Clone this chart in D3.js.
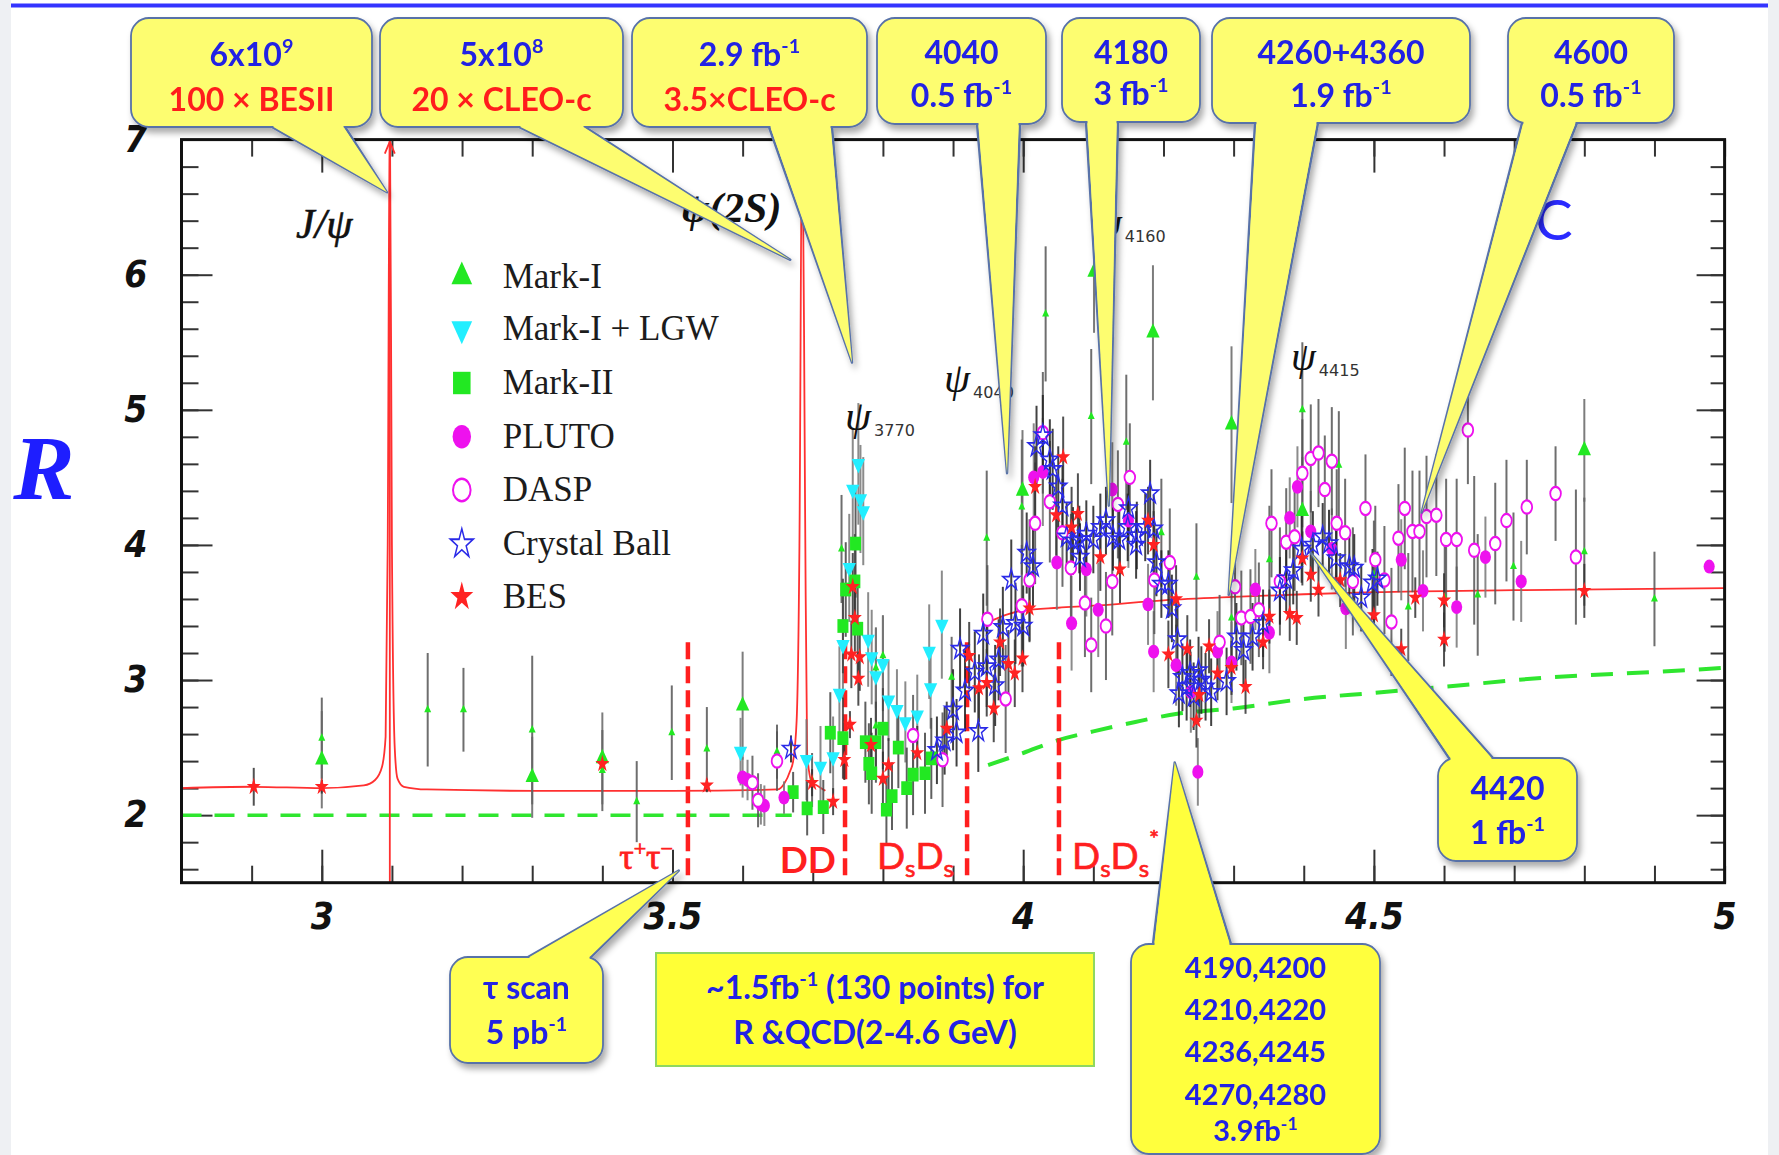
<!DOCTYPE html>
<html>
<head>
<meta charset="utf-8">
<script src="https://cdn.jsdelivr.net/npm/d3@7"></script>
<style>
  html, body { margin: 0; padding: 0; background: #fff; }
  svg { display: block; }
</style>
</head>
<body>
<svg id="chart" width="1779" height="1155"></svg>
<script>
// ---------------------------------------------------------------
// R = sigma(e+e- -> hadrons) / sigma(mu mu) in the charm region.
// Each point: [E (GeV), R, error]
// ---------------------------------------------------------------
const markI = [
  [3.0,2.41,0.36],[3.3,2.28,0.30],[3.4,2.42,0.34],[3.6,2.81,0.40],[3.999,4.40,0.45],
  [4.101,6.02,0.45],[4.185,5.57,0.50],[4.297,4.89,0.58],[4.398,4.25,0.40],[4.8,4.70,0.38]
];
const markISmall = [
  [3.0,2.57,0.30],[3.151,2.78,0.42],[3.202,2.78,0.31],[3.30,2.63,0.55],[3.40,2.33,0.30],
  [3.449,2.10,0.30],[3.499,2.61,0.35],[3.549,2.49,0.31],[3.649,2.47,0.20],[3.699,2.26,0.20],
  [3.741,3.97,0.40],[3.79,3.09,0.30],[3.79,2.66,0.30],[3.80,3.18,0.30],[3.898,3.02,0.30],
  [3.948,4.05,0.50],[3.998,4.28,0.50],[4.032,5.71,0.50],[4.097,4.95,0.50],[4.147,4.76,0.50],
  [4.197,4.09,0.40],[4.247,3.76,0.40],[4.297,3.46,0.40],[4.351,3.89,0.40],[4.398,5.00,0.50],
  [4.45,4.59,0.40],[4.50,3.78,0.40],[4.549,3.54,0.40],[4.601,3.61,0.40],[4.648,3.63,0.45],
  [4.699,3.84,0.40],[4.80,3.95,0.40],[4.90,3.60,0.35]
];
const markILGW = [
  [3.597,2.47,0.25],[3.691,2.41,0.30],[3.711,2.36,0.30],[3.729,2.43,0.30],[3.738,2.90,0.35],
  [3.743,3.26,0.40],[3.752,3.83,0.40],[3.757,4.41,0.45],[3.765,4.60,0.45],[3.768,4.34,0.40],
  [3.772,4.25,0.40],[3.779,3.30,0.35],[3.784,3.17,0.35],[3.79,3.03,0.35],[3.80,3.12,0.35],
  [3.808,2.85,0.30],[3.82,2.78,0.30],[3.832,2.69,0.30],[3.849,2.74,0.30],[3.866,3.21,0.35],
  [3.868,2.94,0.30],[3.884,3.41,0.40]
];
const markII = [
  [3.672,2.17,0.15],[3.692,2.05,0.20],[3.715,2.06,0.20],[3.725,2.61,0.30],[3.743,2.57,0.30],
  [3.743,3.40,0.35],[3.747,3.67,0.35],[3.761,4.01,0.40],[3.76,3.73,0.35],[3.764,3.38,0.35],
  [3.775,2.54,0.30],[3.79,2.54,0.30],[3.78,2.38,0.30],[3.784,2.31,0.30],[3.805,2.04,0.25],
  [3.80,2.64,0.30],[3.813,2.14,0.25],[3.822,2.50,0.30],[3.834,2.20,0.30],[3.843,2.30,0.30],
  [3.86,2.31,0.30],[3.869,2.42,0.30]
];
const pluto = [
  [3.60,2.28,0.15],[3.607,2.26,0.15],[3.626,2.08,0.15],[3.631,2.07,0.15],[3.659,2.13,0.12],
  [4.015,4.50,0.40],[4.028,4.54,0.40],[4.048,3.87,0.35],[4.069,3.42,0.35],[4.09,3.82,0.35],
  [4.107,3.52,0.35],[4.127,4.41,0.35],[4.15,4.18,0.35],[4.178,3.56,0.30],[4.186,3.21,0.30],
  [4.218,3.11,0.30],[4.239,2.91,0.30],[4.249,2.32,0.25],[4.277,3.21,0.30],[4.297,3.13,0.30],
  [4.331,3.67,0.30],[4.351,3.35,0.30],[4.38,4.20,0.30],[4.391,4.43,0.30],[4.41,4.10,0.30],
  [4.44,3.97,0.30],[4.46,3.53,0.30],[4.539,3.89,0.30],[4.57,3.66,0.30],[4.618,3.54,0.30],
  [4.659,3.91,0.30],[4.71,3.73,0.30],[4.978,3.84,0.0]
];
const dasp = [
  [3.614,2.24,0.20],[3.622,2.11,0.20],[3.649,2.40,0.22],[3.843,2.59,0.30],[3.885,2.41,0.35],
  [3.949,3.45,0.40],[3.975,2.86,0.40],[3.998,3.55,0.45],[4.009,3.74,0.45],[4.017,4.16,0.45],
  [4.028,4.83,0.45],[4.038,4.32,0.45],[4.056,4.09,0.40],[4.068,3.83,0.40],[4.088,3.57,0.40],
  [4.097,3.26,0.35],[4.118,3.40,0.40],[4.127,3.73,0.40],[4.135,4.30,0.40],[4.152,4.50,0.40],
  [4.187,3.74,0.40],[4.209,3.87,0.40],[4.28,3.28,0.35],[4.302,3.69,0.35],[4.311,3.46,0.35],
  [4.324,3.47,0.35],[4.336,3.52,0.35],[4.354,4.16,0.40],[4.366,3.73,0.40],[4.375,4.02,0.40],
  [4.387,4.06,0.40],[4.398,4.53,0.40],[4.41,4.64,0.40],[4.421,4.68,0.40],[4.43,4.41,0.40],
  [4.44,4.62,0.40],[4.447,4.16,0.40],[4.459,4.09,0.40],[4.47,3.73,0.40],[4.488,4.27,0.40],
  [4.502,3.89,0.40],[4.515,3.74,0.40],[4.525,3.43,0.40],[4.535,4.05,0.40],[4.544,4.27,0.45],
  [4.555,4.10,0.45],[4.565,4.10,0.45],[4.575,4.21,0.45],[4.589,4.22,0.45],[4.603,4.04,0.45],
  [4.618,4.04,0.45],[4.634,4.85,0.40],[4.643,3.96,0.55],[4.673,4.01,0.45],[4.689,4.18,0.45],
  [4.718,4.28,0.35],[4.759,4.38,0.35],[4.788,3.91,0.50]
];
const crystalBall = [
  [3.669,2.49,0.10],[3.877,2.48,0.25],[3.888,2.55,0.25],[3.90,2.78,0.30],[3.905,2.61,0.25],
  [3.91,3.23,0.30],[3.917,2.92,0.30],[3.931,3.06,0.30],[3.936,2.62,0.30],[3.943,3.34,0.30],
  [3.948,3.10,0.30],[3.96,2.96,0.30],[3.965,3.15,0.30],[3.971,3.39,0.30],[3.983,3.74,0.30],
  [3.989,3.42,0.30],[4.0,3.40,0.30],[4.005,3.94,0.30],[4.014,3.84,0.30],[4.019,4.73,0.30],
  [4.028,4.81,0.30],[4.038,4.63,0.30],[4.042,4.56,0.30],[4.05,4.43,0.30],[4.056,4.29,0.30],
  [4.062,4.06,0.25],[4.071,4.03,0.25],[4.08,4.04,0.25],[4.081,3.91,0.25],[4.09,4.08,0.25],
  [4.10,4.04,0.25],[4.11,4.13,0.25],[4.118,4.18,0.25],[4.128,4.06,0.25],[4.137,4.04,0.25],
  [4.149,4.13,0.25],[4.15,4.27,0.25],[4.161,4.00,0.25],[4.162,4.07,0.25],[4.174,4.13,0.25],
  [4.181,4.38,0.25],[4.186,4.12,0.25],[4.19,3.87,0.25],[4.197,3.71,0.25],[4.207,3.71,0.25],
  [4.212,3.53,0.25],[4.22,3.30,0.25],[4.222,2.90,0.25],[4.227,3.02,0.25],[4.233,2.95,0.25],
  [4.238,3.05,0.25],[4.243,2.88,0.25],[4.25,3.07,0.25],[4.254,3.00,0.25],[4.26,2.95,0.25],
  [4.268,2.91,0.25],[4.29,2.99,0.25],[4.304,3.32,0.25],[4.314,3.22,0.25],[4.327,3.32,0.25],
  [4.342,3.42,0.25],[4.366,3.66,0.25],[4.375,3.75,0.25],[4.385,3.81,0.25],[4.397,3.97,0.25],
  [4.413,4.00,0.25],[4.427,4.06,0.25],[4.436,4.01,0.25],[4.446,3.90,0.25],[4.465,3.84,0.25],
  [4.472,3.83,0.25],[4.482,3.61,0.25],[4.498,3.72,0.25],[4.505,3.75,0.20]
];
const bes = [
  [2.903,2.21,0.14],[3.0,2.21,0.05],[3.40,2.38,0.05],[3.549,2.22,0.05],[3.699,2.24,0.10],
  [3.729,2.10,0.10],[3.745,2.41,0.15],[3.753,2.67,0.10],[3.757,3.69,0.25],[3.76,3.46,0.25],
  [3.755,3.19,0.25],[3.767,3.17,0.25],[3.765,3.01,0.20],[3.783,2.52,0.20],[3.80,2.27,0.20],
  [3.808,2.37,0.20],[3.849,2.46,0.20],[3.891,2.64,0.20],[3.923,3.18,0.25],[3.937,2.94,0.25],
  [3.948,2.98,0.25],[3.958,2.79,0.25],[3.967,3.28,0.25],[3.979,3.12,0.25],[3.988,3.05,0.25],
  [3.999,3.16,0.25],[4.009,3.53,0.25],[4.017,4.43,0.30],[4.047,4.22,0.30],[4.057,4.65,0.30],
  [4.069,4.13,0.30],[4.078,4.23,0.30],[4.11,3.91,0.25],[4.138,3.82,0.25],[4.178,4.18,0.25],
  [4.186,4.00,0.25],[4.207,3.19,0.25],[4.218,3.60,0.25],[4.234,3.23,0.25],[4.247,2.70,0.20],
  [4.251,2.89,0.20],[4.265,3.25,0.20],[4.277,3.05,0.20],[4.297,3.09,0.20],[4.317,2.95,0.20],
  [4.342,3.28,0.20],[4.351,3.47,0.20],[4.38,3.49,0.20],[4.39,3.46,0.20],[4.398,3.90,0.20],
  [4.41,3.78,0.20],[4.421,3.67,0.20],[4.452,3.74,0.20],[4.50,3.48,0.20],[4.539,3.23,0.15],
  [4.559,3.61,0.15],[4.60,3.30,0.20],[4.60,3.59,0.20],[4.80,3.66,0.20]
];

// Theory curves
const resonanceCurveE = [2.8,2.9,3.0,3.06,3.076,3.086,3.091,3.094,3.097,3.100,3.104,3.108,3.117,3.15,3.3,3.5,3.65,3.659,3.668,3.672,3.677,3.681,3.685,3.689,3.692,3.699,3.706,3.718];
const resonanceCurveR = [2.20,2.21,2.20,2.22,2.26,2.36,2.58,4.0,7.3,4.0,2.5,2.27,2.21,2.19,2.18,2.18,2.19,2.23,2.33,2.40,2.70,4.0,7.3,4.3,2.45,2.24,2.22,2.18];
const continuumCurveE = [3.955,3.98,4.0,4.05,4.1,4.2,4.3,4.4,4.5,4.7,5.0];
const continuumCurveR = [3.44,3.49,3.515,3.535,3.55,3.59,3.615,3.635,3.65,3.665,3.68];
const partonLowE = [2.8,3.67];
const partonLowR = [2.0,2.0];
const partonHighE = [3.95,4.0,4.05,4.1,4.16,4.22,4.3,4.4,4.5,4.6,4.75,4.9,5.0];
const partonHighR = [2.37,2.46,2.555,2.62,2.69,2.75,2.79,2.86,2.905,2.95,3.02,3.06,3.09];
const jpsiMass = 3.097;

// Open-flavour thresholds
const thresholdE = [3.522,3.746,3.920,4.051];
const thresholdTopR = 3.28;

// Axis ticks
const xMinorTicks = d3.range(28,51).map(d => d/10);
const xMajorTicks = [3,3.5,4,4.5];
const xLabelTicks = [3,3.5,4,4.5,5];
const yMinorTicks = d3.range(8,35).map(d => d/5);
const yMajorTicks = [2,3,4,5,6];
const yLabelTicks = [2,3,4,5,6,7];

const legendNames = ["Mark-I","Mark-I + LGW","Mark-II","PLUTO","DASP","Crystal Ball","BES"];

// ---------------------------------------------------------------
const W = 1779, H = 1155;
const svg = d3.select("#chart");
const x = d3.scaleLinear().domain([2.8,5.0]).range([181.5,1724.6]);
const y = d3.scaleLinear().domain([1.5,7.0]).range([882.7,139.6]);

const BLUE = "#2222e4", RED = "#ff1f1f", GREEN = "#22e822", CYAN = "#22eeff", MAG = "#ee11ee";

const defs = svg.append("defs");
defs.append("clipPath").attr("id","plotClip").append("rect")
  .attr("x", x(2.8)).attr("y", y(7)).attr("width", x(5)-x(2.8)).attr("height", y(1.5)-y(7));
const sh = defs.append("filter").attr("id","shadow")
  .attr("x","-20%").attr("y","-20%").attr("width","150%").attr("height","150%");
sh.append("feDropShadow").attr("dx",3).attr("dy",5).attr("stdDeviation",3)
  .attr("flood-color","#000").attr("flood-opacity",0.33);
const glow = defs.append("filter").attr("id","glow");
glow.append("feGaussianBlur").attr("stdDeviation",1.2);

// page background
svg.append("rect").attr("width",W).attr("height",H).attr("fill","#fff");
svg.append("rect").attr("x",0).attr("y",0).attr("width",11).attr("height",H).attr("fill","#eef0f3");
svg.append("rect").attr("x",1768).attr("y",0).attr("width",11).attr("height",H).attr("fill","#eef0f3");
// top rule
svg.append("line").attr("x1",11).attr("x2",1768).attr("y1",5.5).attr("y2",5.5)
  .attr("stroke","#8c8cff").attr("stroke-width",8).attr("filter","url(#glow)");
svg.append("line").attr("x1",11).attr("x2",1768).attr("y1",5.5).attr("y2",5.5)
  .attr("stroke","#3434ff").attr("stroke-width",4);

// ---------------- axes ----------------
const tickStyle = g => { g.select(".domain").remove(); g.selectAll("line").attr("stroke","#333").attr("stroke-width",2); };
const axG = svg.append("g");
axG.append("g").attr("transform",`translate(0,${y(1.5)})`)
  .call(d3.axisBottom(x).tickValues(xMinorTicks).tickSize(-17).tickFormat("")).call(tickStyle);
axG.append("g").attr("transform",`translate(0,${y(1.5)})`)
  .call(d3.axisBottom(x).tickValues(xMajorTicks).tickSize(-33).tickFormat("")).call(tickStyle);
axG.append("g").attr("transform",`translate(0,${y(7)})`)
  .call(d3.axisTop(x).tickValues(xMinorTicks).tickSize(-17).tickFormat("")).call(tickStyle);
axG.append("g").attr("transform",`translate(0,${y(7)})`)
  .call(d3.axisTop(x).tickValues(xMajorTicks).tickSize(-33).tickFormat("")).call(tickStyle);
axG.append("g").attr("transform",`translate(${x(2.8)},0)`)
  .call(d3.axisLeft(y).tickValues(yMinorTicks).tickSize(-17).tickFormat("")).call(tickStyle);
axG.append("g").attr("transform",`translate(${x(2.8)},0)`)
  .call(d3.axisLeft(y).tickValues(yMajorTicks).tickSize(-31).tickFormat("")).call(tickStyle);
axG.append("g").attr("transform",`translate(${x(5)},0)`)
  .call(d3.axisRight(y).tickValues(yMinorTicks).tickSize(-14).tickFormat("")).call(tickStyle);
axG.append("g").attr("transform",`translate(${x(5)},0)`)
  .call(d3.axisRight(y).tickValues(yMajorTicks).tickSize(-28).tickFormat("")).call(tickStyle);

const labelFont = g => {
  g.select(".domain").remove();
  g.selectAll("text")
    .attr("font-family","'Liberation Sans Narrow','Arial Narrow','DejaVu Sans Condensed','Liberation Sans',sans-serif")
    .attr("font-weight","bold").attr("font-style","italic").attr("font-size",37).attr("fill","#111");
};
axG.append("g").attr("transform",`translate(0,${y(1.5)})`)
  .call(d3.axisBottom(x).tickValues(xLabelTicks).tickSize(0).tickPadding(20).tickFormat(d3.format("~g"))).call(labelFont);
axG.append("g").attr("transform",`translate(${x(2.8)},0)`)
  .call(d3.axisLeft(y).tickValues(yLabelTicks).tickSize(0).tickPadding(34).tickFormat(d3.format("d"))).call(labelFont);

// axis title
svg.append("text").attr("x",44).attr("y",499).attr("text-anchor","middle")
  .attr("font-family","'Liberation Serif','Times New Roman',serif").attr("font-style","italic").attr("font-weight","bold")
  .attr("font-size",92).attr("fill","#1e1eff").text("R");

// ---------------- plot content ----------------
const plot = svg.append("g").attr("clip-path","url(#plotClip)");

// parton-model expectation (dashed green)
const lineGen = d3.line().x(d => x(d[0])).y(d => y(d[1]));
const smooth = d3.line().x(d => x(d[0])).y(d => y(d[1])).curve(d3.curveMonotoneX);
plot.append("path").attr("d", lineGen(d3.zip(partonLowE, partonLowR)))
  .attr("fill","none").attr("stroke","#2fe62f").attr("stroke-width",3.5).attr("stroke-dasharray","20,13");
plot.append("path").attr("d", smooth(d3.zip(partonHighE, partonHighR)))
  .attr("fill","none").attr("stroke","#2fe62f").attr("stroke-width",4).attr("stroke-dasharray","22,14");

// threshold markers
plot.selectAll(".thr").data(thresholdE).join("line").attr("class","thr")
  .attr("x1", d => x(d)).attr("x2", d => x(d)).attr("y1", y(thresholdTopR)).attr("y2", y(1.5))
  .attr("stroke", RED).attr("stroke-width",4.5).attr("stroke-dasharray","17,7");

// resonance + continuum curve (red)
plot.append("path").attr("d", smooth(d3.zip(resonanceCurveE, resonanceCurveR)))
  .attr("fill","none").attr("stroke","#ff3030").attr("stroke-width",1.8);
plot.append("path").attr("d", smooth(d3.zip(continuumCurveE, continuumCurveR)))
  .attr("fill","none").attr("stroke","#ff3030").attr("stroke-width",1.8);
// J/psi off-scale arrow
plot.append("line").attr("x1",x(jpsiMass)).attr("x2",x(jpsiMass)).attr("y1",y(1.5)).attr("y2",y(7)+2)
  .attr("stroke","#ff3030").attr("stroke-width",1.8);
plot.append("path")
  .attr("d",`M${x(jpsiMass)-5},${y(7)+14} L${x(jpsiMass)},${y(7)+2} L${x(jpsiMass)+5},${y(7)+14}`)
  .attr("fill","none").attr("stroke","#ff3030").attr("stroke-width",1.8);

// series table
const seriesTable = [
  {data: markISmall, type: d3.symbolTriangle, size: 26, fill: GREEN, stroke: "none", bar: "#555"},
  {data: markI, type: d3.symbolTriangle, size: 95, fill: GREEN, stroke: "none", bar: "#666"},
  {data: markILGW, type: d3.symbolTriangle, size: 95, fill: CYAN, stroke: "none", bar: "#777", flip: true},
  {data: markII, type: d3.symbolSquare, size: 150, fill: GREEN, stroke: "none", bar: "#444"},
  {data: pluto, type: d3.symbolCircle, size: 120, fill: MAG, stroke: "none", bar: "#777"},
  {data: dasp, type: d3.symbolCircle, size: 110, fill: "#fff", stroke: MAG, sw: 2, bar: "#555"},
  {data: crystalBall, type: d3.symbolStar, size: 110, fill: "none", stroke: "#2a2ae8", sw: 1.5, bar: "#222"},
  {data: bes, type: d3.symbolStar, size: 75, fill: "#ff2222", stroke: "none", bar: "#333"}
];

// error bars
seriesTable.forEach(s => {
  plot.append("g").selectAll("line").data(s.data.filter(d => d[2] > 0)).join("line")
    .attr("x1", d => x(d[0])).attr("x2", d => x(d[0]))
    .attr("y1", d => y(d[1] - d[2])).attr("y2", d => y(d[1] + d[2]))
    .attr("stroke", s.bar).attr("stroke-width", 2).attr("opacity", 0.85);
});
// markers
seriesTable.forEach(s => {
  plot.append("g").selectAll("path").data(s.data).join("path")
    .attr("d", d3.symbol().type(s.type).size(s.size))
    .attr("transform", d => `translate(${x(d[0])},${y(d[1])})${s.flip ? " rotate(180)" : ""} scale(0.9,1.12)`)
    .attr("fill", s.fill).attr("stroke", s.stroke).attr("stroke-width", s.sw || 0);
});

// frame
svg.append("rect").attr("x",x(2.8)).attr("y",y(7)).attr("width",x(5)-x(2.8)).attr("height",y(1.5)-y(7))
  .attr("fill","none").attr("stroke","#111").attr("stroke-width",3);

// ---------------- legend ----------------
const legendSym = [
  {type: d3.symbolTriangle, size: 230, fill: GREEN, stroke: "none"},
  {type: d3.symbolTriangle, size: 230, fill: CYAN, stroke: "none", flip: true},
  {type: d3.symbolSquare, size: 380, fill: GREEN, stroke: "none"},
  {type: d3.symbolCircle, size: 330, fill: MAG, stroke: "none"},
  {type: d3.symbolCircle, size: 300, fill: "#fff", stroke: MAG, sw: 2.2},
  {type: d3.symbolStar, size: 200, fill: "none", stroke: "#2a2ae8", sw: 1.6},
  {type: d3.symbolStar, size: 200, fill: "#ff2222", stroke: "none"}
];
const legendY = [276.7, 329, 383, 436.7, 490, 544, 596.8];
const leg = svg.append("g");
legendNames.forEach((name, i) => {
  const s = legendSym[i];
  leg.append("path").attr("d", d3.symbol().type(s.type).size(s.size)())
    .attr("transform", `translate(461.8,${legendY[i]})${s.flip ? " rotate(180)" : ""} scale(0.9,1.15)`)
    .attr("fill", s.fill).attr("stroke", s.stroke).attr("stroke-width", s.sw || 0);
  leg.append("text").attr("x", 502.7).attr("y", legendY[i] + 11)
    .attr("font-family","'Liberation Serif','Times New Roman',serif").attr("font-size",35)
    .attr("fill","#1c1c1c").text(name);
});

// ---------------- resonance names ----------------
const serif = "'Liberation Serif','Times New Roman',serif";
const lab = svg.append("g").attr("font-family", serif).attr("fill","#111");
lab.append("text").attr("x",296).attr("y",238).attr("font-style","italic").attr("font-size",42)
  .attr("stroke","#111").attr("stroke-width",0.6).text("J/ψ");
lab.append("text").attr("x",681).attr("y",222).attr("font-style","italic").attr("font-weight","bold").attr("font-size",42).text("ψ(2S)");
function psiLabel(px, py, sub, fs) {
  const t = lab.append("text").attr("x", px).attr("y", py);
  t.append("tspan").attr("font-style","italic").attr("font-size", fs).text("ψ");
  t.append("tspan").attr("font-family","'DejaVu Sans',sans-serif").attr("font-size",16).attr("dx",3).attr("dy",6).attr("fill","#333").text(sub);
}
psiLabel(845, 430, "3770", 42);
psiLabel(944, 392, "4040", 42);
psiLabel(1097, 236, "4160", 40);
psiLabel(1291, 370, "4415", 40);
svg.append("text").attr("x",1554).attr("y",240).attr("text-anchor","middle")
  .attr("font-family","Lato,sans-serif").attr("font-size",56).attr("fill","#2a2aff").text("C");

// threshold names
const thr = svg.append("g").attr("fill", RED);
thr.append("text").attr("x",673).attr("y",869).attr("text-anchor","end").attr("font-family",serif).attr("font-size",36)
  .attr("stroke",RED).attr("stroke-width",0.8)
  .call(t => { t.append("tspan").text("τ"); t.append("tspan").attr("font-size",22).attr("dy",-13).text("+");
               t.append("tspan").attr("dy",13).text("τ"); t.append("tspan").attr("font-size",22).attr("dy",-13).text("−"); });
const sansLab = "Lato,'Open Sans',sans-serif";
thr.append("text").attr("x",836).attr("y",873).attr("text-anchor","end").attr("font-family",sansLab)
  .attr("font-weight","bold").attr("font-size",37).text("DD");
function dsLabel(px, py, anchor, star) {
  const t = thr.append("text").attr("x",px).attr("y",py).attr("text-anchor",anchor).attr("font-family",sansLab)
    .attr("font-size",37).attr("stroke",RED).attr("stroke-width",0.7);
  t.append("tspan").text("D"); t.append("tspan").attr("font-size",24).attr("dy",8).text("s");
  t.append("tspan").attr("dy",-8).text("D"); t.append("tspan").attr("font-size",24).attr("dy",8).text("s");
  if (star) t.append("tspan").attr("font-size",24).attr("dy",-30).text("*");
}
dsLabel(954, 869, "end", false);
dsLabel(1072, 869, "start", true);

// ---------------- call-outs ----------------
const callouts = [
  {box:[131,18,241,109], edge:"bottom", base:[272,345], tip:[3.093,6.61], fill:"#fdfd70", ly:[54,99],
   lines:[{c:BLUE, p:[["6x10"],["9",1]]},{c:RED, p:[["100 × BESII"]]}]},
  {box:[380,18,243,109], edge:"bottom", base:[519,585], tip:[3.668,6.11], fill:"#fdfd70", ly:[54,99],
   lines:[{c:BLUE, p:[["5x10"],["8",1]]},{c:RED, p:[["20 × CLEO-c"]]}]},
  {box:[632,18,235,109], edge:"bottom", base:[769,832], tip:[3.756,5.35], fill:"#fdfd70", ly:[54,99],
   lines:[{c:BLUE, p:[["2.9 fb"],["-1",1]]},{c:RED, p:[["3.5×CLEO-c"]]}]},
  {box:[877,18,169,106], edge:"bottom", base:[977,1020], tip:[3.977,4.53], fill:"#fdfd70", ly:[52,95],
   lines:[{c:BLUE, p:[["4040"]]},{c:BLUE, p:[["0.5 fb"],["-1",1]]}]},
  {box:[1062,18,138,104], edge:"bottom", base:[1086,1118], tip:[4.122,4.29], fill:"#fdfd70", ly:[52,93],
   lines:[{c:BLUE, p:[["4180"]]},{c:BLUE, p:[["3 fb"],["-1",1]]}]},
  {box:[1212,18,258,105], edge:"bottom", base:[1255,1318], tip:[4.293,3.63], fill:"#fdfd70", ly:[52,95],
   lines:[{c:BLUE, p:[["4260+4360"]]},{c:BLUE, p:[["1.9 fb"],["-1",1]]}]},
  {box:[1508,18,166,105], edge:"bottom", base:[1522,1577], tip:[4.568,4.24], fill:"#fdfd70", ly:[52,95],
   lines:[{c:BLUE, p:[["4600"]]},{c:BLUE, p:[["0.5 fb"],["-1",1]]}]},
  {box:[1438,758,139,103], edge:"top", base:[1449,1493], tip:[4.41,3.94], fill:"#ffff4c", ly:[788,832],
   lines:[{c:BLUE, p:[["4420"]]},{c:BLUE, p:[["1 fb"],["-1",1]]}]},
  {box:[450,957,153,106], edge:"top", base:[528,591], tip:[3.509,1.59], fill:"#ffff52", ly:[987,1032],
   lines:[{c:BLUE, p:[["τ scan"]]},{c:BLUE, p:[["5 pb"],["-1",1]]}]},
  {box:[1131,944,249,210], edge:"top", base:[1153,1231], tip:[4.216,2.39], fill:"#ffff3c", ly:[968,1010,1052,1095,1131], fs:29,
   lines:[{c:BLUE, p:[["4190,4200"]]},{c:BLUE, p:[["4210,4220"]]},{c:BLUE, p:[["4236,4245"]]},
          {c:BLUE, p:[["4270,4280"]]},{c:BLUE, p:[["3.9fb"],["-1",1]]}]},
  {box:[656,953,438,113], rect:true, fill:"#ffff36", ly:[987,1032],
   lines:[{c:BLUE, p:[["~1.5fb"],["-1",1],[" (130 points) for"]]},{c:BLUE, p:[["R &QCD(2-4.6 GeV)"]]}]}
];

const cg = svg.append("g");
callouts.forEach(c => {
  const [bx, by, bw, bh] = c.box;
  const g = cg.append("g");
  if (c.rect) {
    g.append("rect").attr("x",bx).attr("y",by).attr("width",bw).attr("height",bh)
      .attr("fill",c.fill).attr("stroke","#8fd860").attr("stroke-width",2);
  } else {
    g.attr("filter","url(#shadow)");
    const tip = [x(c.tip[0]), y(c.tip[1])];
    const ey = c.edge === "bottom" ? by + bh : by;
    const inward = c.edge === "bottom" ? -7 : 7;
    g.append("path")
      .attr("d", `M${c.base[0]},${ey} L${tip[0]},${tip[1]} L${c.base[1]},${ey} Z`)
      .attr("fill", c.fill).attr("stroke","#5872a8").attr("stroke-width",2.4).attr("stroke-linejoin","round");
    g.append("rect").attr("x",bx).attr("y",by).attr("width",bw).attr("height",bh).attr("rx",18).attr("ry",18)
      .attr("fill", c.fill).attr("stroke","#5872a8").attr("stroke-width",1.8);
    g.append("path")
      .attr("d", `M${c.base[0]+1.5},${ey+inward} L${c.base[0]+1.5},${ey} L${tip[0]},${tip[1]} L${c.base[1]-1.5},${ey} L${c.base[1]-1.5},${ey+inward} Z`)
      .attr("fill", c.fill);
  }
  const fs = c.fs || 32;
  c.lines.forEach((ln, i) => {
    const t = g.append("text").attr("x", bx + bw/2).attr("y", c.ly[i] + fs*0.36)
      .attr("text-anchor","middle").attr("font-family","Lato,'Open Sans',sans-serif")
      .attr("font-weight","bold").attr("font-size", fs).attr("fill", ln.c);
    let raised = false;
    ln.p.forEach(([txt, sup]) => {
      const ts = t.append("tspan").text(txt);
      if (sup && !raised) { ts.attr("font-size", fs*0.62).attr("dy", -fs*0.38); raised = true; }
      else if (!sup && raised) { ts.attr("dy", fs*0.38); raised = false; }
    });
  });
});
</script>
</body>
</html>
